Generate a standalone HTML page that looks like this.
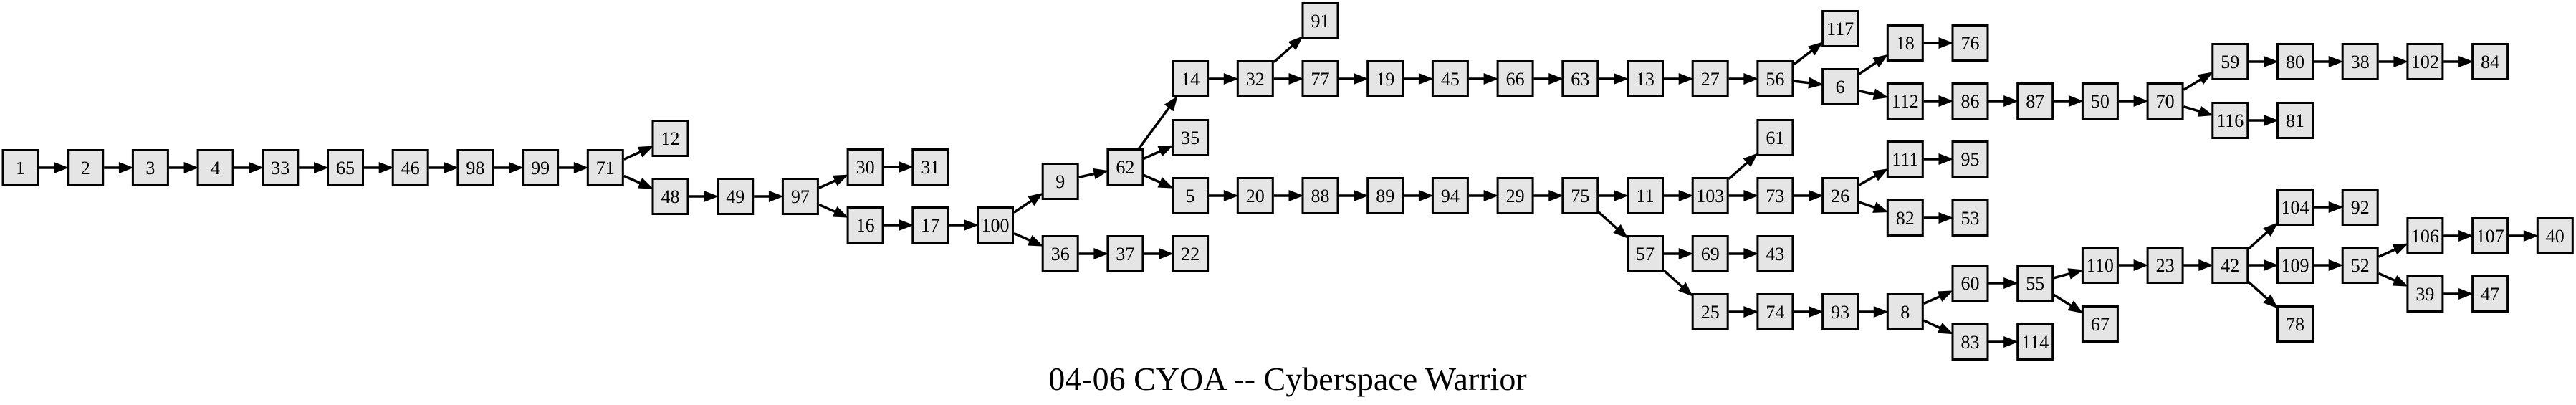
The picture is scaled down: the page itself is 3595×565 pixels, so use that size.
<!DOCTYPE html>
<html><head><meta charset="utf-8"><style>
html,body{margin:0;padding:0;background:#fff;}
svg{display:block;}
text{font-family:"Liberation Serif",serif;}
.n{font-size:26px;text-anchor:middle;}
</style></head><body>
<svg id="s" width="3595" height="565" viewBox="0 0 3595 565" xmlns="http://www.w3.org/2000/svg">
<g id="edges"></g><g id="boxes"></g>
<g id="labels">
<text class="n" x="28.5" y="243">1</text>
<text class="n" x="119.2" y="243">2</text>
<text class="n" x="209.9" y="243">3</text>
<text class="n" x="300.6" y="243">4</text>
<text class="n" x="391.3" y="243">33</text>
<text class="n" x="482" y="243">65</text>
<text class="n" x="572.7" y="243">46</text>
<text class="n" x="663.4" y="243">98</text>
<text class="n" x="754.1" y="243">99</text>
<text class="n" x="844.8" y="243">71</text>
<text class="n" x="935.5" y="202">12</text>
<text class="n" x="935.5" y="283">48</text>
<text class="n" x="1026.2" y="283">49</text>
<text class="n" x="1116.9" y="283">97</text>
<text class="n" x="1207.6" y="242">30</text>
<text class="n" x="1298.3" y="242">31</text>
<text class="n" x="1207.6" y="323">16</text>
<text class="n" x="1298.3" y="323">17</text>
<text class="n" x="1389" y="323">100</text>
<text class="n" x="1479.7" y="262">9</text>
<text class="n" x="1479.7" y="363">36</text>
<text class="n" x="1570.4" y="363">37</text>
<text class="n" x="1661.1" y="363">22</text>
<text class="n" x="1570.4" y="242">62</text>
<text class="n" x="1661.1" y="119">14</text>
<text class="n" x="1661.1" y="201">35</text>
<text class="n" x="1661.1" y="282">5</text>
<text class="n" x="1751.8" y="119">32</text>
<text class="n" x="1842.5" y="38">91</text>
<text class="n" x="1842.5" y="119">77</text>
<text class="n" x="1933.2" y="119">19</text>
<text class="n" x="2023.9" y="119">45</text>
<text class="n" x="2114.6" y="119">66</text>
<text class="n" x="2205.3" y="119">63</text>
<text class="n" x="2296" y="119">13</text>
<text class="n" x="2386.7" y="119">27</text>
<text class="n" x="2477.4" y="119">56</text>
<text class="n" x="2568.1" y="49">117</text>
<text class="n" x="2568.1" y="130">6</text>
<text class="n" x="2658.8" y="69">18</text>
<text class="n" x="2749.5" y="69">76</text>
<text class="n" x="2658.8" y="150">112</text>
<text class="n" x="2749.5" y="150">86</text>
<text class="n" x="2840.2" y="150">87</text>
<text class="n" x="2930.9" y="150">50</text>
<text class="n" x="3021.6" y="150">70</text>
<text class="n" x="3112.3" y="95">59</text>
<text class="n" x="3203" y="95">80</text>
<text class="n" x="3293.7" y="95">38</text>
<text class="n" x="3384.4" y="95">102</text>
<text class="n" x="3475.1" y="95">84</text>
<text class="n" x="3112.3" y="177">116</text>
<text class="n" x="3203" y="177">81</text>
<text class="n" x="1751.8" y="282">20</text>
<text class="n" x="1842.5" y="282">88</text>
<text class="n" x="1933.2" y="282">89</text>
<text class="n" x="2023.9" y="282">94</text>
<text class="n" x="2114.6" y="282">29</text>
<text class="n" x="2205.3" y="282">75</text>
<text class="n" x="2296" y="282">11</text>
<text class="n" x="2386.7" y="282">103</text>
<text class="n" x="2477.4" y="282">73</text>
<text class="n" x="2568.1" y="282">26</text>
<text class="n" x="2477.4" y="201">61</text>
<text class="n" x="2658.8" y="231">111</text>
<text class="n" x="2749.5" y="231">95</text>
<text class="n" x="2658.8" y="313">82</text>
<text class="n" x="2749.5" y="313">53</text>
<text class="n" x="2296" y="363">57</text>
<text class="n" x="2386.7" y="363">69</text>
<text class="n" x="2477.4" y="363">43</text>
<text class="n" x="2386.7" y="444">25</text>
<text class="n" x="2477.4" y="444">74</text>
<text class="n" x="2568.1" y="444">93</text>
<text class="n" x="2658.8" y="444">8</text>
<text class="n" x="2749.5" y="404">60</text>
<text class="n" x="2840.2" y="404">55</text>
<text class="n" x="2749.5" y="486">83</text>
<text class="n" x="2840.2" y="486">114</text>
<text class="n" x="2930.9" y="379">110</text>
<text class="n" x="2930.9" y="461">67</text>
<text class="n" x="3021.6" y="379">23</text>
<text class="n" x="3112.3" y="379">42</text>
<text class="n" x="3203" y="298">104</text>
<text class="n" x="3293.7" y="298">92</text>
<text class="n" x="3203" y="379">109</text>
<text class="n" x="3203" y="461">78</text>
<text class="n" x="3293.7" y="379">52</text>
<text class="n" x="3384.4" y="338">106</text>
<text class="n" x="3475.1" y="338">107</text>
<text class="n" x="3565.8" y="338">40</text>
<text class="n" x="3384.4" y="419">39</text>
<text class="n" x="3475.1" y="419">47</text>
</g>
<text x="1797" y="544" font-size="46" text-anchor="middle">04-06 CYOA -- Cyberspace Warrior</text>
</svg>
<script>
(function(){
var NS="http://www.w3.org/2000/svg";
var pos={};
var labels=document.querySelectorAll('#labels text');
var boxes=document.getElementById('boxes');
var HW=24.5,HH=24.5;
labels.forEach(function(t){
 var cx=parseFloat(t.getAttribute('x')),cy=parseFloat(t.getAttribute('y'))-9;
 pos[t.textContent]=[cx,cy];
 var r=document.createElementNS(NS,'rect');
 r.setAttribute('x',cx-HW);r.setAttribute('y',cy-HH);
 r.setAttribute('width',2*HW);r.setAttribute('height',2*HH);
 r.setAttribute('fill','#e5e5e5');r.setAttribute('stroke','#000');r.setAttribute('stroke-width','3');
 boxes.appendChild(r);
});
var E="1-2,2-3,3-4,4-33,33-65,65-46,46-98,98-99,99-71,71-12,71-48,48-49,49-97,97-30,97-16,30-31,16-17,17-100,100-9,100-36,9-62,36-37,37-22,62-14,62-35,62-5,14-32,32-91,32-77,77-19,19-45,45-66,66-63,63-13,13-27,27-56,56-117,56-6,6-18,6-112,18-76,112-86,86-87,87-50,50-70,70-59,70-116,59-80,80-38,38-102,102-84,116-81,5-20,20-88,88-89,89-94,94-29,29-75,75-11,75-57,11-103,103-61,103-73,73-26,26-111,26-82,111-95,82-53,57-69,57-25,69-43,25-74,74-93,93-8,8-60,8-83,60-55,55-110,55-67,83-114,110-23,23-42,42-104,42-109,42-78,104-92,109-52,52-106,52-39,106-107,107-40,39-47";
var eg=document.getElementById('edges');
function clip(dx,dy){var t=Infinity;if(dx)t=Math.min(t,(HW+1.5)/Math.abs(dx));if(dy)t=Math.min(t,(HH+1.5)/Math.abs(dy));return t;}
E.split(',').forEach(function(p){
 var ab=p.split('-'),a=pos[ab[0]],b=pos[ab[1]];
 var dx=b[0]-a[0],dy=b[1]-a[1],L=Math.hypot(dx,dy),ux=dx/L,uy=dy/L;
 var ts=clip(dx,dy);
 var sx=a[0]+dx*ts,sy=a[1]+dy*ts;
 var ex=b[0]-dx*ts,ey=b[1]-dy*ts;
 var AL=17,AW=6.5;
 var bx=ex-ux*AL,by=ey-uy*AL;
 var l=document.createElementNS(NS,'line');
 l.setAttribute('x1',sx);l.setAttribute('y1',sy);l.setAttribute('x2',bx+ux*1);l.setAttribute('y2',by+uy*1);
 l.setAttribute('stroke','#000');l.setAttribute('stroke-width','3.5');
 eg.appendChild(l);
 var pg=document.createElementNS(NS,'polygon');
 pg.setAttribute('points',ex+','+ey+' '+(bx-uy*AW)+','+(by+ux*AW)+' '+(bx+uy*AW)+','+(by-ux*AW));
 pg.setAttribute('fill','#000');pg.setAttribute('stroke','#000');pg.setAttribute('stroke-width','2');
 eg.appendChild(pg);
});
})();
</script>
</body></html>
